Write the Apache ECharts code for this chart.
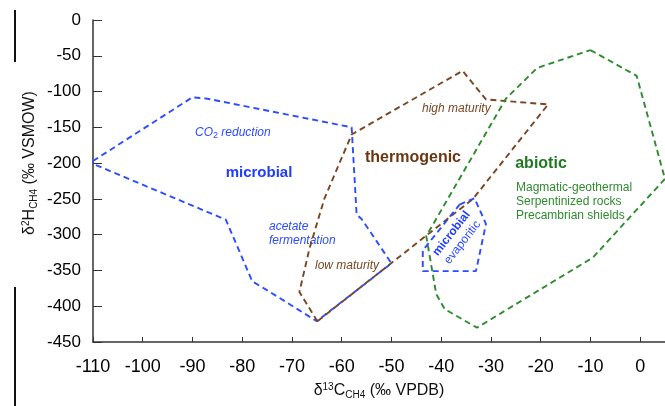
<!DOCTYPE html>
<html>
<head>
<meta charset="utf-8">
<script src="https://cdn.jsdelivr.net/npm/echarts@6/dist/echarts.min.js"></script>
<style>
  html, body { margin: 0; padding: 0; background: #fff; }
  #main { width: 665px; height: 406px; }
</style>
</head>
<body>
<div id="main"></div>
<script>
// axis ranges (d13C on x, d2H on y)
const xMin = -110, xMax = 5, xStep = 10;
const yMin = -450, yMax = 0, yStep = 50;

// field outlines, points are [d13C, d2H]
const microbial = [[-110, -197], [-90, -108], [-87, -110], [-58, -150], [-57, -272], [-56, -278],
  [-50, -340], [-65, -421], [-72.6, -388], [-78, -365], [-83.3, -279], [-110, -201], [-110, -197]];
const thermogenic = [[-64.9, -421], [-68.5, -380], [-66.5, -320], [-63.5, -250], [-58, -160],
  [-35.7, -71], [-31, -111], [-18.5, -118], [-33.6, -250], [-64.9, -421]];
const abiotic = [[-10, -42], [-0.7, -78], [5, -222], [-9.5, -332], [-32.8, -430], [-39.3, -404],
  [-41, -383], [-43, -302], [-27, -110], [-20.7, -67], [-10, -42]];
const evaporitic = [[-36.3, -258], [-33.3, -249], [-31, -285], [-33, -351], [-43.7, -351],
  [-43.7, -322], [-36.3, -258]];

const BLUE = '#2b4cff';
const BROWN = '#7a4522';
const GREEN = '#2e8b2e';
const FONT = '"Liberation Sans", Arial, sans-serif';

function outline(name, pts, color) {
  return {
    name: name,
    type: 'line',
    data: pts,
    symbol: 'none',
    showSymbol: false,
    smooth: false,
    silent: true,
    clip: true,
    lineStyle: { color: color, width: 1.9, type: [6, 4] },
  };
}

function label(x, y, text, opts) {
  return {
    type: 'text',
    x: x,
    y: y,
    rotation: opts.rotation || 0,
    silent: true,
    style: Object.assign({
      text: text,
      fontFamily: FONT,
      fontSize: 12,
      align: 'left',
      verticalAlign: 'middle',
    }, opts.style),
  };
}

const chart = echarts.init(document.getElementById('main'));

const option = {
  animation: false,
  backgroundColor: '#fff',
  grid: { left: 93, right: 0, top: 20, bottom: 64, containLabel: false },
  xAxis: {
    type: 'value',
    min: xMin,
    max: xMax,
    interval: xStep,
    name: '{a|δ}{s|13}{a|C}{b|CH4}{a| (‰ VPDB)}',
    nameLocation: 'middle',
    nameGap: 40,
    nameTextStyle: {
      fontFamily: FONT,
      color: '#111',
      rich: {
        a: { fontSize: 16, fontFamily: FONT, color: '#111', lineHeight: 18 },
        s: { fontSize: 10, fontFamily: FONT, color: '#111', verticalAlign: 'top' },
        b: { fontSize: 10, fontFamily: FONT, color: '#111', verticalAlign: 'bottom' },
      },
    },
    axisLine: { show: true, onZero: false, lineStyle: { color: '#333', width: 1.5 } },
    axisTick: { show: true, inside: true, length: 5, lineStyle: { color: '#333', width: 1 } },
    axisLabel: { fontSize: 18, color: '#000', margin: 16, fontFamily: FONT, showMaxLabel: false },
    splitLine: { show: false },
  },
  yAxis: {
    type: 'value',
    min: yMin,
    max: yMax,
    interval: yStep,
    axisLine: { show: true, onZero: false, lineStyle: { color: '#333', width: 1.5 } },
    axisTick: { show: true, inside: true, length: 9, lineStyle: { color: '#333', width: 1 } },
    axisLabel: { fontSize: 17, color: '#000', margin: 12, fontFamily: FONT },
    splitLine: { show: false },
  },
  series: [
    outline('microbial', microbial, BLUE),
    outline('thermogenic', thermogenic, BROWN),
    outline('abiotic', abiotic, GREEN),
    outline('evaporitic', evaporitic, BLUE),
  ],
  graphic: [
    // stray frame lines on the left edge
    { type: 'line', silent: true, shape: { x1: 15, y1: 10, x2: 15, y2: 62 }, style: { stroke: '#111', lineWidth: 2 } },
    { type: 'line', silent: true, shape: { x1: 15, y1: 287, x2: 15, y2: 406 }, style: { stroke: '#111', lineWidth: 2 } },
    // y axis title
    label(30, 163, '{a|δ}{s|2}{a|H}{b|CH4}{a| (‰ VSMOW)}', {
      rotation: Math.PI / 2,
      style: {
        align: 'center',
        fill: '#111',
        rich: {
          a: { fontSize: 16, fontFamily: FONT, fill: '#111', lineHeight: 18 },
          s: { fontSize: 10, fontFamily: FONT, fill: '#111', verticalAlign: 'top' },
          b: { fontSize: 10, fontFamily: FONT, fill: '#111', verticalAlign: 'bottom' },
        },
      },
    }),
    label(195, 133, '{i|CO}{t|2}{i| reduction}', {
      style: {
        fill: BLUE,
        rich: {
          i: { fontSize: 12, fontStyle: 'italic', fontFamily: FONT, fill: BLUE, lineHeight: 14 },
          t: { fontSize: 9, fontFamily: FONT, fill: BLUE, verticalAlign: 'bottom' },
        },
      },
    }),
    label(259, 173, 'microbial', { style: { align: 'center', fill: '#1f3cff', fontSize: 15, fontWeight: 'bold' } }),
    label(269, 227, 'acetate', { style: { fill: BLUE, fontStyle: 'italic' } }),
    label(269, 241, 'fermentation', { style: { fill: BLUE, fontStyle: 'italic' } }),
    label(315, 266, 'low maturity', { style: { fill: BROWN, fontStyle: 'italic' } }),
    label(422, 109, 'high maturity', { style: { fill: BROWN, fontStyle: 'italic' } }),
    label(413, 158, 'thermogenic', { style: { align: 'center', fill: '#6b3612', fontSize: 16, fontWeight: 'bold' } }),
    label(541, 164, 'abiotic', { style: { align: 'center', fill: '#1e7a1e', fontSize: 16, fontWeight: 'bold' } }),
    label(516, 188, 'Magmatic-geothermal', { style: { fill: GREEN } }),
    label(516, 202, 'Serpentinized rocks', { style: { fill: GREEN } }),
    label(516, 216, 'Precambrian shields', { style: { fill: GREEN } }),
    label(451.5, 233.5, 'microbial', {
      rotation: 52 * Math.PI / 180,
      style: { align: 'center', fill: '#1f3cff', fontSize: 12, fontWeight: 'bold' },
    }),
    label(462.5, 242.5, 'evaporitic', {
      rotation: 52 * Math.PI / 180,
      style: { align: 'center', fill: BLUE, fontSize: 12 },
    }),
  ],
};

chart.setOption(option);
window.onresize = chart.resize;
</script>
</body>
</html>
